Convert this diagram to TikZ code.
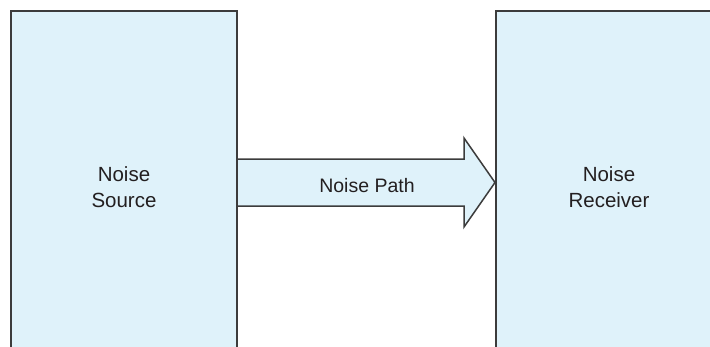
\documentclass[tikz,border=0pt]{standalone}
\usepackage{fontspec}
\setmainfont{Liberation Sans}
\definecolor{boxfill}{RGB}{223,242,250}
\definecolor{boxline}{RGB}{60,60,60}
\definecolor{txt}{RGB}{35,31,32}
\tikzset{
  panel/.style={fill=boxfill, draw=none, inner sep=0pt, outer sep=0pt, anchor=north west},
  border/.style={draw=boxline, line width=1.5pt, line join=miter},
  lbl/.style={font=\fontsize{20.5}{26}\selectfont, text=txt, align=center, inner sep=0pt},
  pathlbl/.style={font=\fontsize{19.5}{24}\selectfont, text=txt, inner sep=0pt, anchor=base}
}
\begin{document}
\begin{tikzpicture}[x=1pt,y=-1pt]
\useasboundingbox (0,0) rectangle (710,346);
\begin{scope}
\clip (0,0) rectangle (710,346);
\fill[white] (0,0) rectangle (710,346);
% panels
\node[panel, minimum width=226pt, minimum height=350pt] (src) at (11,11) {};
\node[panel, minimum width=260pt, minimum height=350pt] (rcv) at (496,11) {};
% arrow
\coordinate (a1) at (237,159);
\coordinate (a2) at (464,159);
\coordinate (a3) at (464,138);
\coordinate (tip) at (495,182.5);
\coordinate (a5) at (464,227);
\coordinate (a6) at (464,206);
\coordinate (a7) at (237,206);
\fill[boxfill] (a1) -- (a2) -- (a3) -- (tip) -- (a5) -- (a6) -- (a7) -- cycle;
\draw[border] (a1) -- (a2) -- (a3) -- (tip) -- (a5) -- (a6) -- (a7);
% borders
\draw[border] (src.south west) -- (src.north west) -- (src.north east) -- (src.south east);
\draw[border] (rcv.south west) -- (rcv.north west) -- (rcv.north east);
\end{scope}
% labels
\node[lbl] (srclbl) at (124,187) {Noise\\Source};
\node[lbl] (rcvlbl) at (609,187) {Noise\\Receiver};
\node[pathlbl] (pathlbl) at (367,192) {Noise Path};
\end{tikzpicture}
\end{document}
